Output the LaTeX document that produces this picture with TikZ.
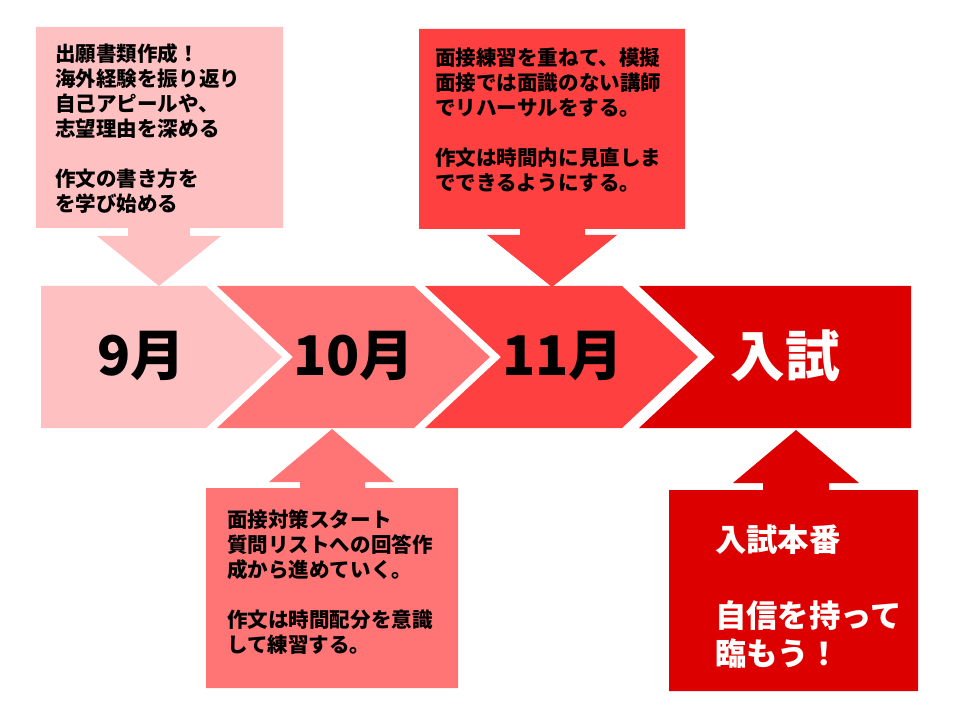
\documentclass[tikz,border=0pt]{standalone}
\usepackage{fontspec}
\setmainfont{Noto Sans CJK JP}

\definecolor{monsep}{RGB}{255,192,193}
\definecolor{monoct}{RGB}{255,117,117}
\definecolor{monnov}{RGB}{255,64,64}
\definecolor{monexam}{RGB}{221,0,0}

\begin{document}
\begin{tikzpicture}[x = 0.75pt, y = -0.75pt,
	memo/.style = {anchor = north west, inner sep = 0pt, align = left, font = \fontsize{15.4}{18.75}\selectfont\bfseries},
	month/.style = {font = \fontsize{41}{41}\selectfont\bfseries}]

	\useasboundingbox (0, 0) rectangle (960, 720);

	% Timeline arrows with month labels

	\fill [monsep] (41, 286) -- (206, 286) -- (282, 357) -- (206, 428) -- (41, 428) -- cycle;
	\foreach \x / \c in {217/monoct, 425/monnov}
		\fill [\c] (\x, 286) -- (\x + 197, 286) -- (\x + 273, 357) -- (\x + 197, 428) -- (\x, 428) -- (\x + 76, 357) -- cycle;
	\fill [monexam] (639, 286) -- (911, 286) -- (911, 428) -- (639, 428) -- (715, 357) -- cycle;

	\node (sep) at (141, 356) [month] {9月};
	\node (oct) at (354, 356) [month] {10月};
	\node (nov) at (563, 356) [month] {11月};
	\node (exam) at (785, 356) [month, white] {入試};

	% Callouts above the timeline

	\fill [monsep] (36, 27) -- (283, 27) -- (283, 228) -- (190, 228) -- (190, 236) -- (221, 236) -- (159, 286)
		-- (97, 236) -- (128, 236) -- (128, 228) -- (36, 228) -- cycle;
	\node (sepmemo) at (55, 43) [memo] {出願書類作成！\\海外経験を振り返り\\自己アピールや、\\志望理由を深める\\~\\作文の書き方を\\を学び始める};

	\fill [monnov] (419, 29) -- (685, 29) -- (685, 229) -- (585, 229) -- (585, 235) -- (617, 235) -- (552, 287)
		-- (487, 235) -- (520, 235) -- (520, 229) -- (419, 229) -- cycle;
	\node (novmemo) at (435, 48) [memo] {面接練習を重ねて、模擬\\面接では面識のない講師\\でリハーサルをする。\\~\\作文は時間内に見直しま\\でできるようにする。};

	% Callouts below the timeline

	\fill [monoct] (206, 488) -- (300, 488) -- (300, 482) -- (269, 482) -- (332, 429) -- (394, 482)
		-- (365, 482) -- (365, 488) -- (458, 488) -- (458, 688) -- (206, 688) -- cycle;
	\node (octmemo) at (227, 509) [memo] {面接対策スタート\\質問リストへの回答作\\成から進めていく。\\~\\作文は時間配分を意識\\して練習する。};

	\fill [monexam] (669, 490) -- (763, 490) -- (763, 483) -- (733, 483) -- (796, 430) -- (859, 483)
		-- (829, 483) -- (829, 490) -- (918, 490) -- (918, 691) -- (669, 691) -- cycle;
	\node (exammemo) at (715, 524) [memo, white, font = \fontsize{23.5}{28.5}\selectfont\bfseries] {入試本番\\~\\自信を持って\\臨もう！};

\end{tikzpicture}
\end{document}
